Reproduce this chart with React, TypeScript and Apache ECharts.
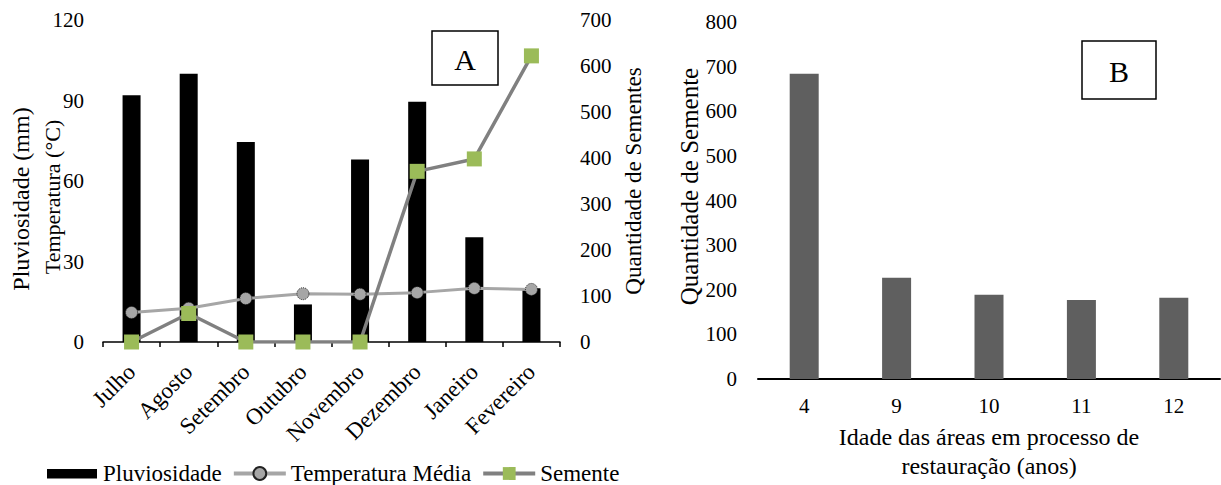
import React, { useEffect, useRef } from 'react';
import * as echarts from 'echarts';

const months = ['Julho', 'Agosto', 'Setembro', 'Outubro', 'Novembro', 'Dezembro', 'Janeiro', 'Fevereiro'];
const pluviosidade = [92, 100, 74.5, 14, 68, 89.5, 39, 20];
const temperatura = [11, 12.6, 16.2, 18, 17.8, 18.4, 20, 19.6];
const semente = [0, 62, 0, 0, 0, 371, 398, 622];

const idades = ['4', '9', '10', '11', '12'];
const sementeIdade = [684, 227, 189, 177, 182];

const FONT = 'Liberation Serif';

export default function App() {
  const ref = useRef<HTMLDivElement>(null);
  useEffect(() => {
    document.body.style.margin = '0';
    const chart = echarts.init(ref.current!, null, { renderer: 'svg' });
    chart.setOption({
      animation: false,
      backgroundColor: '#fff',
      textStyle: { fontFamily: FONT, color: '#000' },
      grid: [
        { left: 103, top: 20, width: 457, height: 322 },
        { left: 758, top: 22, width: 462, height: 359 },
      ],
      legend: {
        data: [
          { name: 'Pluviosidade', icon: 'path://M0,0L0.01,0M0,3.5L50,3.5L50,13L0,13ZM0,16L0.01,16' },
          'Temperatura Média',
          'Semente',
        ],
        left: 47,
        top: 462,
        padding: 0,
        itemWidth: 52,
        itemHeight: 16,
        itemGap: 10,
        lineStyle: { width: 4 },
        textStyle: { fontSize: 23, fontFamily: FONT, color: '#000' },
      },
      xAxis: [
        {
          gridIndex: 0,
          type: 'category',
          data: months,
          boundaryGap: true,
          axisLine: { lineStyle: { color: '#000', width: 1.5 } },
          axisTick: { show: true, length: 5, lineStyle: { color: '#000', width: 1.5 } },
          axisLabel: { rotate: 45, interval: 0, fontSize: 23, color: '#000', fontFamily: FONT, margin: 26 },
        },
        {
          gridIndex: 1,
          type: 'category',
          data: idades,
          axisLine: { lineStyle: { color: '#000', width: 2 } },
          axisTick: { show: false },
          axisLabel: { fontSize: 21, color: '#000', fontFamily: FONT, margin: 16 },
          name: 'Idade das áreas em processo de\nrestauração (anos)',
          nameLocation: 'middle',
          nameGap: 43,
          nameTextStyle: { fontSize: 24, lineHeight: 29, color: '#000', fontFamily: FONT },
        },
      ],
      yAxis: [
        {
          gridIndex: 0,
          type: 'value',
          min: 0,
          max: 120,
          interval: 30,
          axisLine: { show: false },
          axisTick: { show: false },
          splitLine: { show: false },
          axisLabel: { fontSize: 21, color: '#000', fontFamily: FONT, margin: 19 },
          name: 'Pluviosidade (mm)',
          nameLocation: 'middle',
          nameGap: 70,
          nameRotate: 90,
          nameTextStyle: { fontSize: 24, color: '#000', fontFamily: FONT, padding: [0, 36, 0, 0] },
        },
        {
          gridIndex: 0,
          type: 'value',
          position: 'right',
          min: 0,
          max: 700,
          interval: 100,
          axisLine: { show: false },
          axisTick: { show: false },
          splitLine: { show: false },
          axisLabel: { fontSize: 21, color: '#000', fontFamily: FONT, margin: 20 },
          name: 'Quantidade de Sementes',
          nameLocation: 'middle',
          nameGap: 62,
          nameRotate: 90,
          nameTextStyle: { fontSize: 23, color: '#000', fontFamily: FONT },
        },
        {
          gridIndex: 1,
          type: 'value',
          min: 0,
          max: 800,
          interval: 100,
          axisLine: { show: false },
          axisTick: { show: false },
          splitLine: { show: false },
          axisLabel: { fontSize: 21, color: '#000', fontFamily: FONT, margin: 21 },
          name: 'Quantidade de Semente',
          nameLocation: 'middle',
          nameGap: 47,
          nameRotate: 90,
          nameTextStyle: { fontSize: 25, color: '#000', fontFamily: FONT, padding: [0, 0, 0, 28] },
        },
      ],
      series: [
        {
          type: 'bar',
          name: 'Pluviosidade',
          xAxisIndex: 0,
          yAxisIndex: 0,
          data: pluviosidade,
          barWidth: 18,
          itemStyle: { color: '#000' },
        },
        {
          type: 'line',
          name: 'Temperatura Média',
          xAxisIndex: 0,
          yAxisIndex: 0,
          data: temperatura,
          symbol: 'circle',
          symbolSize: 12,
          lineStyle: { color: '#A6A6A6', width: 3 },
          itemStyle: { color: '#A6A6A6', borderColor: '#222', borderWidth: 1, borderType: 'dotted' },
        },
        {
          type: 'line',
          name: 'Semente',
          xAxisIndex: 0,
          yAxisIndex: 1,
          data: semente,
          symbol: 'rect',
          symbolSize: 15,
          lineStyle: { color: '#808080', width: 3.5 },
          itemStyle: { color: '#9BBB59' },
        },
        {
          type: 'bar',
          name: 'Sementes por idade',
          xAxisIndex: 1,
          yAxisIndex: 2,
          data: sementeIdade,
          barWidth: 29,
          itemStyle: { color: '#5F5F5F' },
        },
      ],
      graphic: [
        {
          type: 'text',
          x: 52,
          y: 197,
          rotation: Math.PI / 2,
          style: { text: 'Temperatura (°C)', fontSize: 22, fontFamily: FONT, fill: '#000', align: 'center', verticalAlign: 'middle' },
        },
        {
          type: 'rect',
          shape: { x: 432, y: 31, width: 66, height: 54 },
          style: { fill: '#fff', stroke: '#000', lineWidth: 1.5 },
          z: 10,
        },
        {
          type: 'text',
          x: 465,
          y: 59,
          style: { text: 'A', fontSize: 30, fontFamily: FONT, fill: '#000', align: 'center', verticalAlign: 'middle' },
          z: 11,
        },
        {
          type: 'rect',
          shape: { x: 1082, y: 41, width: 74, height: 58 },
          style: { fill: '#fff', stroke: '#000', lineWidth: 1.5 },
          z: 10,
        },
        {
          type: 'text',
          x: 1119,
          y: 71,
          style: { text: 'B', fontSize: 30, fontFamily: FONT, fill: '#000', align: 'center', verticalAlign: 'middle' },
          z: 11,
        },
      ],
    });
    return () => chart.dispose();
  }, []);
  return <div ref={ref} style={{ width: 1221, height: 485, position: 'absolute', left: 0, top: 0 }} />;
}
